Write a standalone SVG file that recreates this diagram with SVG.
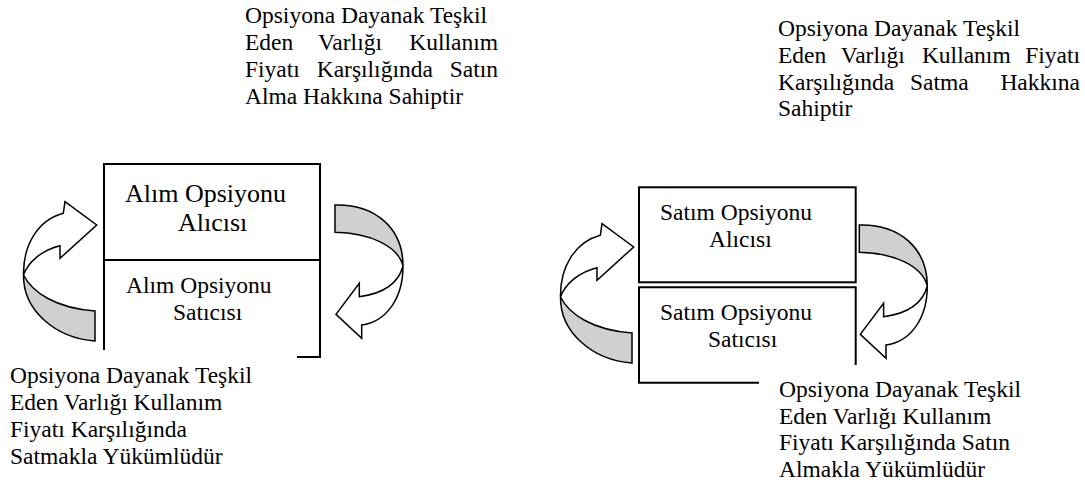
<svg xmlns="http://www.w3.org/2000/svg" xmlns:xlink="http://www.w3.org/1999/xlink" width="1085" height="486" viewBox="0 0 1085 486">
<style>
.box{fill:none;stroke:#000;stroke-width:2}
.front{fill:#fff;stroke:#000;stroke-width:1.5;stroke-linejoin:miter}
.back{fill:#d0d0d0;stroke:#000;stroke-width:1.5}
</style>
<defs>
<g id="curveUp">
<path class="back" d="M23.5,275 C32,292 55,308 95,311 L95,341 C55,338 23,310 23.5,275 Z"/>
<path class="front" d="M63.3,213.3 L65,201.7 L96.7,225 L60,258.3 L60,245.7 C42,250 28,262 23.5,275 C23,245 38,220 63.3,213.3 Z"/>
</g>
<g id="curveDown">
<path class="back" d="M335,205 C375,204 403,228 403,266 C398,246 370,233 335,232.3 Z"/>
<path class="front" d="M403,266 C403,300 385,322 361.7,325 L361.7,338.3 L336,314.3 L359.3,283.3 L359.3,296.7 C380,294 398,285 403,266 Z"/>
</g>
</defs>
<rect width="1085" height="486" fill="#fff"/>
<g id="connectors">
<use xlink:href="#curveUp"/>
<use xlink:href="#curveDown"/>
<use xlink:href="#curveUp" transform="translate(537,22)"/>
<use xlink:href="#curveDown" transform="translate(524.3,20)"/>
</g>
<g id="alim-alici">
<path class="box" d="M104,260 V164 H320 V260 Z"/>
<text font-family="Liberation Serif" font-size="26" x="125" y="201.7">Alım Opsiyonu</text>
<text font-family="Liberation Serif" font-size="26" x="178" y="230.5">Alıcısı</text>
</g>
<g id="alim-satici">
<path class="box" d="M104,260 V350 M297,357 H320 V260"/>
<text font-family="Liberation Serif" font-size="23.5" x="126" y="293">Alım Opsiyonu</text>
<text font-family="Liberation Serif" font-size="23.5" x="173" y="320">Satıcısı</text>
</g>
<g id="satim-alici">
<rect class="box" x="639" y="187.3" width="216.7" height="95"/>
<text font-family="Liberation Serif" font-size="23.5" x="660" y="220">Satım Opsiyonu</text>
<text font-family="Liberation Serif" font-size="23.5" x="709" y="247">Alıcısı</text>
</g>
<g id="satim-satici">
<path class="box" d="M759,382.7 H639 V287.3 H855.7 V365"/>
<text font-family="Liberation Serif" font-size="23.5" x="660" y="320">Satım Opsiyonu</text>
<text font-family="Liberation Serif" font-size="23.5" x="708" y="347">Satıcısı</text>
</g>
<g id="label-alim-hak">
<text font-family="Liberation Serif" font-size="23.5" x="245" y="23.3">Opsiyona Dayanak Teşkil</text>
<text font-family="Liberation Serif" font-size="23.5" y="50.3"><tspan x="245">Eden</tspan><tspan x="318">Varlığı</tspan><tspan x="409.2">Kullanım</tspan></text>
<text font-family="Liberation Serif" font-size="23.5" y="77"><tspan x="245">Fiyatı</tspan><tspan x="316.7">Karşılığında</tspan><tspan x="449.7">Satın</tspan></text>
<text font-family="Liberation Serif" font-size="23.5" x="245" y="103.5">Alma Hakkına Sahiptir</text>
</g>
<g id="label-satim-hak">
<text font-family="Liberation Serif" font-size="23.5" x="778" y="36">Opsiyona Dayanak Teşkil</text>
<text font-family="Liberation Serif" font-size="23.5" y="63"><tspan x="778">Eden</tspan><tspan x="840.8">Varlığı</tspan><tspan x="921.9">Kullanım</tspan><tspan x="1025.2">Fiyatı</tspan></text>
<text font-family="Liberation Serif" font-size="23.5" y="89.7"><tspan x="778">Karşılığında</tspan><tspan x="910">Satma</tspan><tspan x="1000.4">Hakkına</tspan></text>
<text font-family="Liberation Serif" font-size="23.5" x="778" y="116.3">Sahiptir</text>
</g>
<g id="label-alim-yuk">
<text font-family="Liberation Serif" font-size="23.5" x="10" y="383.3">Opsiyona Dayanak Teşkil</text>
<text font-family="Liberation Serif" font-size="23.5" x="10" y="410.3">Eden Varlığı Kullanım</text>
<text font-family="Liberation Serif" font-size="23.5" x="10" y="437">Fiyatı Karşılığında</text>
<text font-family="Liberation Serif" font-size="23.5" x="10" y="463.7">Satmakla Yükümlüdür</text>
</g>
<g id="label-satim-yuk">
<text font-family="Liberation Serif" font-size="23.5" x="779" y="396.7">Opsiyona Dayanak Teşkil</text>
<text font-family="Liberation Serif" font-size="23.5" x="779" y="423.7">Eden Varlığı Kullanım</text>
<text font-family="Liberation Serif" font-size="23.5" x="779" y="450.3">Fiyatı Karşılığında Satın</text>
<text font-family="Liberation Serif" font-size="23.5" x="779" y="477">Almakla Yükümlüdür</text>
</g>
</svg>
